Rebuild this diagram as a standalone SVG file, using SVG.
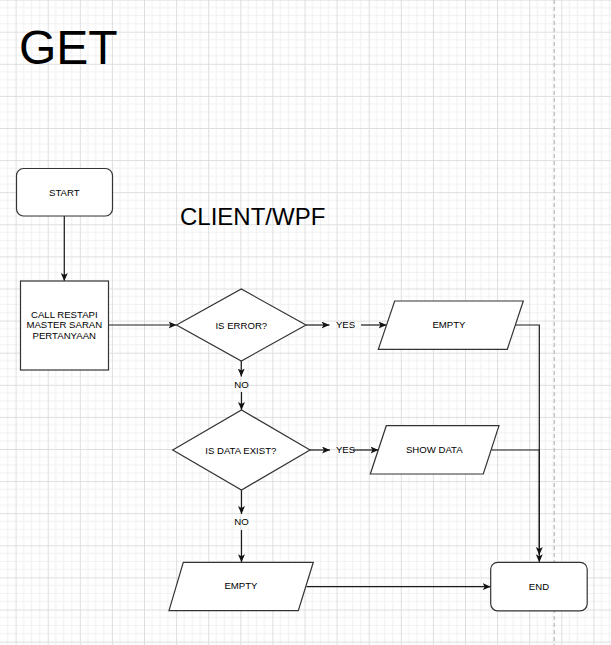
<svg xmlns="http://www.w3.org/2000/svg" width="611" height="645" viewBox="0 0 611 645">
<defs>
<pattern id="grid" patternUnits="userSpaceOnUse" x="15.6" y="-0.4" width="32.1" height="32.1">
<rect width="32.1" height="32.1" fill="#ffffff"/>
<path d="M8.03,0V32.1M16.05,0V32.1M24.08,0V32.1M0,8.03H32.1M0,16.05H32.1M0,24.08H32.1" stroke="#f1f1f1" stroke-width="1" fill="none"/>
<path d="M0.5,0V32.1M0,0.5H32.1" stroke="#dedede" stroke-width="1" fill="none"/>
</pattern>
<marker id="arr" markerUnits="userSpaceOnUse" markerWidth="9" markerHeight="8" refX="8" refY="3.5" orient="auto">
<path d="M0,0 L8,3.5 L0,7 L2,3.5 Z" fill="#111"/>
</marker>
<style>
.shape{fill:#ffffff;stroke:#333333;stroke-width:1.2}
.edge{fill:none;stroke:#1a1a1a;stroke-width:1.2}
.lbl{font-family:"Liberation Sans",Arial,sans-serif;font-size:9.6px;fill:#000;text-anchor:middle}
.title{font-family:"Liberation Sans",Arial,sans-serif;fill:#000}
</style>
</defs>
<rect width="611" height="645" fill="url(#grid)"/>
<line x1="554.3" y1="0" x2="554.3" y2="645" stroke="#c4c4c4" stroke-width="1.5" stroke-dasharray="4 3"/>

<g id="title-get"><text class="title" x="19" y="64" font-size="48">GET</text></g>
<g id="title-client"><text class="title" x="180" y="225" font-size="24">CLIENT/WPF</text></g>

<g id="connectors">
<line class="edge" x1="64.3" y1="216" x2="64.3" y2="281" marker-end="url(#arr)"/>
<line class="edge" x1="108.5" y1="325" x2="176.5" y2="325" marker-end="url(#arr)"/>
<line class="edge" x1="306" y1="325" x2="329.5" y2="325" marker-end="url(#arr)"/>
<line class="edge" x1="361" y1="325" x2="386.5" y2="325" marker-end="url(#arr)"/>
<line class="edge" x1="241.3" y1="361" x2="241.3" y2="376.5" marker-end="url(#arr)"/>
<line class="edge" x1="241.5" y1="392" x2="241.5" y2="410" marker-end="url(#arr)"/>
<line class="edge" x1="310" y1="450" x2="330" y2="450" marker-end="url(#arr)"/>
<line class="edge" x1="353" y1="450" x2="378.5" y2="450" marker-end="url(#arr)"/>
<line class="edge" x1="241.5" y1="490" x2="241.5" y2="514" marker-end="url(#arr)"/>
<line class="edge" x1="241.5" y1="530" x2="241.5" y2="562.3" marker-end="url(#arr)"/>
<line class="edge" x1="306.5" y1="586.7" x2="490.7" y2="586.7" marker-end="url(#arr)"/>
<polyline class="edge" points="515.4,325 539.3,325 539.3,562.3" marker-end="url(#arr)"/>
<polyline class="edge" points="491.5,450 539.3,450 539.3,555" marker-end="url(#arr)"/>
</g>

<g id="start">
<rect class="shape" x="16.5" y="168.5" width="96" height="47.5" rx="7"/>
<text class="lbl" x="64.3" y="195.5">START</text>
</g>
<g id="call-restapi">
<rect class="shape" x="20.5" y="281" width="88" height="89"/>
<text class="lbl" x="64.3" y="317.6">CALL RESTAPI</text>
<text class="lbl" x="64.3" y="328.4">MASTER SARAN</text>
<text class="lbl" x="64.3" y="339.3">PERTANYAAN</text>
</g>
<g id="is-error">
<polygon class="shape" points="176.5,325 241.3,289 306,325 241.3,361"/>
<text class="lbl" x="241.3" y="328.5">IS ERROR?</text>
</g>
<g id="yes-1"><text class="lbl" x="345.5" y="328">YES</text></g>
<g id="empty-1">
<polygon class="shape" points="394.7,301 523.3,301 507.3,349.3 378.3,349.3"/>
<text class="lbl" x="449" y="328">EMPTY</text>
</g>
<g id="no-1"><text class="lbl" x="241.5" y="388.2">NO</text></g>
<g id="is-data-exist">
<polygon class="shape" points="172.7,450 241.5,410 310,450 241.5,490"/>
<text class="lbl" x="240.8" y="453.5">IS DATA EXIST?</text>
</g>
<g id="yes-2"><text class="lbl" x="345.5" y="453.3">YES</text></g>
<g id="show-data">
<polygon class="shape" points="386.3,425.7 499,425.7 483.3,474 370.3,474"/>
<text class="lbl" x="434.3" y="453.3">SHOW DATA</text>
</g>
<g id="no-2"><text class="lbl" x="241.5" y="525.2">NO</text></g>
<g id="empty-2">
<polygon class="shape" points="183.3,562.3 313.3,562.3 298.3,610.7 169,610.7"/>
<text class="lbl" x="241" y="589.2">EMPTY</text>
</g>
<g id="end">
<rect class="shape" x="490.7" y="562.3" width="96.5" height="48.5" rx="7"/>
<text class="lbl" x="539" y="589.5">END</text>
</g>
</svg>
